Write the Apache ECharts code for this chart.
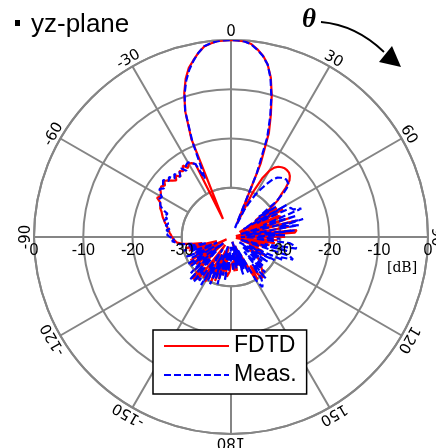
<!DOCTYPE html>
<html>
<head>
<meta charset="utf-8">
<script src="https://cdn.jsdelivr.net/npm/echarts@6/dist/echarts.min.js"></script>
<style>
  html, body { margin: 0; padding: 0; background: #fff; }
  #chart { width: 436px; height: 448px; }
</style>
</head>
<body>
<div id="chart"></div>
<script>
// Radiation pattern in the yz-plane, sampled every 2 degrees from -180 to 180 (dB)
const ANGLE_START = -180;
const ANGLE_STEP = 2;

const fdtd = [
  -34.6, -33, -32.5, -31.9, -33, -36, -32, -38, -31, -35,          // -180 .. -162
  -30.5, -37, -30, -34, -36, -29.5, -33, -30, -38, -29,            // -160 .. -142
  -32, -28.5, -29, -35, -30, -38, -31, -34, -30, -37,              // -140 .. -122
  -30.5, -33, -39, -32, -33.2, -36, -31, -37, -30.5, -34,          // -120 .. -102
  -31.9, -30, -29, -28.6, -28.3, -28, -27.8, -27.5, -27.3, -27,    // -100 .. -82
  -26.8, -26.3, -26, -25.6, -25.3, -25, -24.5, -24.3, -24, -23,    //  -80 .. -62
  -23.5, -23.2, -22.7, -22.5, -23, -22.3, -22.8, -23.5, -24, -23.2,//  -60 .. -42
  -24, -23, -23.5, -22.5, -23.5, -22.8, -23, -23.5, -36, -18.5,    //  -40 .. -22
  -12.8, -9.3, -6.6, -4.6, -3.3, -2.0, -0.95, -0.5, -0.15, -0.05,  //  -20 .. -2
  0, -0.05, -0.2, -0.6, -1.5, -2.6, -4.2, -6.6, -10.0, -13.8,      //    0 .. 18
  -17.5, -24, -37, -30, -26.5, -24.5, -23.4, -22.8, -22.5, -22.3,  //   20 .. 38
  -22.3, -22.4, -22.8, -23.5, -25, -26.8, -28, -30, -34, -29,      //   40 .. 58
  -38, -28, -36, -29.5, -29, -38, -27.5, -35, -26.3, -39,          //   60 .. 78
  -28, -36, -26.6, -27, -38, -29, -39, -30.5, -37, -31,            //   80 .. 98
  -39, -32, -36, -33, -38, -34, -36, -33, -35, -32,                //  100 .. 118
  -33, -34.5, -35.5, -34, -33, -32.5, -32, -31.8, -31, -30.5,      //  120 .. 138
  -30, -29.5, -30.5, -33, -29.8, -31, -36, -33, -38, -34,          //  140 .. 158
  -37, -35, -39, -34, -37, -33, -36, -33, -35, -34.5,              //  160 .. 178
  -34.6                                                            //  180
];

const meas = [
  -35, -38, -33, -36, -31, -37, -32, -35, -30, -38,                // -180 .. -162
  -31, -34, -29.5, -36, -30, -33, -28.5, -37, -29, -31,            // -160 .. -142
  -28, -34, -27.9, -36, -29, -32, -38, -30, -33, -29.5,            // -140 .. -122
  -36, -31, -34, -30, -37, -31.5, -33, -30, -35, -31,              // -120 .. -102
  -32, -29.5, -28.8, -28, -28.5, -27.6, -27, -27.5, -26.8, -27.5,  // -100 .. -82
  -26.5, -27, -26, -26.5, -25.8, -26.3, -25, -24.3, -24, -23.5,    //  -80 .. -62
  -23.8, -23, -22.5, -23.2, -22.5, -22, -23, -22.5, -23.5, -22.8,  //  -60 .. -42
  -24, -23, -22.8, -23.8, -22.8, -22.5, -23, -23.5, -27, -19,      //  -40 .. -22
  -12.8, -9.5, -7, -5, -3.4, -2.0, -0.9, -0.45, -0.15, -0.05,      //  -20 .. -2
  0, -0.05, -0.2, -0.7, -1.6, -2.7, -4.2, -6.8, -10.3, -14.2,      //    0 .. 18
  -18.5, -26, -38, -34, -32, -30, -28.5, -27, -25.5, -24.7,        //   20 .. 38
  -24.3, -24, -23.8, -23.8, -24.2, -26, -28.5, -33, -29, -37,      //   40 .. 58
  -27, -34, -26.5, -26.2, -24.6, -33, -26, -38, -24.9, -30,        //   60 .. 78
  -26, -37, -27, -33, -29, -38, -30, -35, -28, -27,                //   80 .. 98
  -26.5, -33, -28, -38, -27.5, -26.6, -29, -28.5, -36, -30,        //  100 .. 118
  -33, -38, -31, -35, -32, -37, -31, -34, -30, -36,                //  120 .. 138
  -29, -33, -29.5, -28.5, -28, -30, -37, -32, -38, -33,            //  140 .. 158
  -36, -32, -39, -34, -37, -33.5, -38, -35, -33, -36,              //  160 .. 178
  -35                                                              //  180
];

const seriesNames = ['FDTD', 'Meas.'];

// Angle ticks (degrees, clockwise from the top) and their labels
const angleTicks = [-150, -120, -90, -60, -30, 0, 30, 60, 90, 120, 150, 180];
const angleTickLabels = ['-150', '-120', '-90', '-60', '-30', '0', '30', '60', '90', '120', '150', '180'];

// Radial ticks (dB) and their labels, written on both sides of the horizontal spoke
const radialTicks = [0, -10, -20, -30];
const radialTickLabels = ['0', '-10', '-20', '-30'];

// Radial scale
const R_MIN = -40;
const R_MAX = 0;
const GRID_INNER = -30;

const CENTER = [231, 237];
const RADIUS = 197;
const GRID_GRAY = '#858585';
const GRID_WIDTH = 2;

const angles = fdtd.map((_, i) => ANGLE_START + i * ANGLE_STEP);

const hidden = {
  axisLine: { show: false },
  axisTick: { show: false },
  axisLabel: { show: false },
  splitLine: { show: false }
};

function renderAngleLabel(params, api) {
  const a = api.value(1);
  const p = api.coord([api.value(0), a]);
  const rad = a * Math.PI / 180;
  const gap = 8;
  return {
    type: 'text',
    x: p[0] + gap * Math.sin(rad),
    y: p[1] - gap * Math.cos(rad),
    rotation: -rad,
    style: {
      text: angleTickLabels[params.dataIndex % angleTickLabels.length],
      align: 'center',
      verticalAlign: 'middle',
      font: '15px "DejaVu Sans"',
      fill: '#000'
    }
  };
}

const radialLabelData = [];
[-90, 90].forEach(a => radialTicks.forEach(r => radialLabelData.push([r, a])));

function renderRadialLabel(params, api) {
  const p = api.coord([api.value(0), api.value(1)]);
  return {
    type: 'text',
    x: p[0],
    y: p[1] + 14,
    style: {
      text: radialTickLabels[params.dataIndex % radialTickLabels.length],
      align: 'center',
      verticalAlign: 'middle',
      font: '16px "Liberation Sans"',
      fill: '#000'
    }
  };
}

const chart = echarts.init(document.getElementById('chart'));

chart.setOption({
  animation: false,
  backgroundColor: '#fff',
  polar: [
    { center: CENTER, radius: [0, RADIUS] },
    { center: CENTER, radius: [RADIUS * (GRID_INNER - R_MIN) / (R_MAX - R_MIN), RADIUS] }
  ],
  angleAxis: [
    Object.assign({ polarIndex: 0, type: 'value', min: -180, max: 180, startAngle: 270, clockwise: true }, hidden),
    {
      polarIndex: 1, type: 'value', min: -180, max: 180, interval: 30,
      startAngle: 270, clockwise: true,
      axisLine: { show: true, lineStyle: { color: GRID_GRAY, width: GRID_WIDTH } },
      axisTick: { show: false },
      axisLabel: { show: false },
      splitLine: { show: true, lineStyle: { color: GRID_GRAY, width: GRID_WIDTH } }
    }
  ],
  radiusAxis: [
    Object.assign({ polarIndex: 0, type: 'value', min: R_MIN, max: R_MAX }, hidden),
    {
      polarIndex: 1, type: 'value', min: GRID_INNER, max: R_MAX, interval: 10,
      axisLine: { show: false },
      axisTick: { show: false },
      axisLabel: { show: false },
      splitLine: { show: true, lineStyle: { color: GRID_GRAY, width: GRID_WIDTH } }
    }
  ],
  legend: {
    data: seriesNames,
    orient: 'vertical',
    left: 153,
    top: 330,
    padding: [3, 10, 6, 10],
    itemGap: 3,
    itemWidth: 65,
    itemHeight: 22,
    backgroundColor: '#fff',
    borderColor: '#000',
    borderWidth: 1.5,
    borderRadius: 0,
    itemStyle: { opacity: 0 },
    textStyle: { fontFamily: 'Liberation Sans', fontSize: 23, color: '#000', lineHeight: 26 },
    z: 10
  },
  graphic: [
    { type: 'rect', shape: { x: 15, y: 20, width: 5, height: 6 }, style: { fill: '#000' } },
    {
      type: 'text', x: 31, y: 24.5,
      style: { text: 'yz-plane', font: '26px "Liberation Sans"', fill: '#000', verticalAlign: 'middle' }
    },
    {
      type: 'text', x: 309, y: 20,
      style: { text: '\u03b8', font: 'bold italic 27px "Liberation Serif"', fill: '#000', align: 'center', verticalAlign: 'middle' }
    },
    {
      type: 'bezierCurve',
      shape: { x1: 321, y1: 22, cpx1: 356, cpy1: 25, x2: 384, y2: 52 },
      style: { stroke: '#000', lineWidth: 1.8, fill: null }
    },
    {
      type: 'polygon',
      shape: { points: [[379, 62], [392, 46], [401, 67]] },
      style: { fill: '#000' }
    },
    {
      type: 'text', x: 402, y: 268,
      style: { text: '[dB]', font: '14px "DejaVu Serif"', fill: '#000', align: 'center', verticalAlign: 'middle' }
    }
  ],
  series: [
    {
      name: seriesNames[0],
      type: 'line',
      coordinateSystem: 'polar',
      polarIndex: 0,
      data: fdtd.map((v, i) => [v, angles[i]]),
      symbol: 'none',
      lineStyle: { color: '#ff0000', width: 2.2 },
      itemStyle: { color: '#ff0000' },
      z: 3
    },
    {
      name: seriesNames[1],
      type: 'line',
      coordinateSystem: 'polar',
      polarIndex: 0,
      data: meas.map((v, i) => [v, angles[i]]),
      symbol: 'none',
      lineStyle: { color: '#0000ff', width: 2.2, type: [7, 3] },
      itemStyle: { color: '#0000ff' },
      z: 4
    },
    {
      type: 'custom',
      coordinateSystem: 'polar',
      polarIndex: 0,
      data: angleTicks.map(a => [R_MAX, a]),
      renderItem: renderAngleLabel,
      silent: true,
      z: 5
    },
    {
      type: 'custom',
      coordinateSystem: 'polar',
      polarIndex: 0,
      data: radialLabelData,
      renderItem: renderRadialLabel,
      silent: true,
      z: 5
    }
  ]
});
</script>
</body>
</html>
